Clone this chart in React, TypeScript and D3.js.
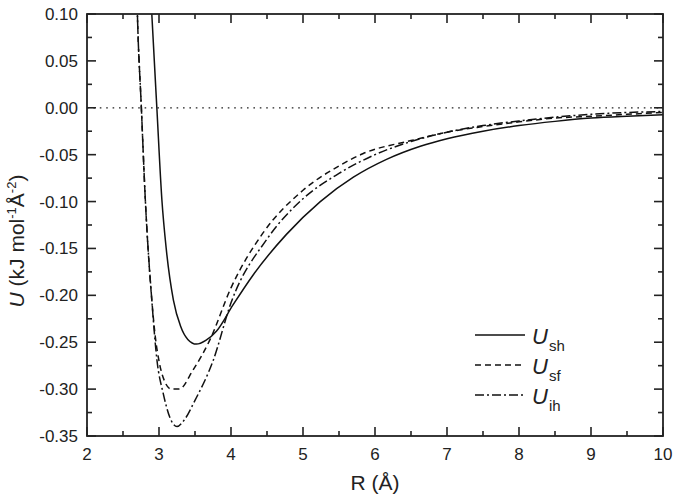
import * as d3 from 'd3'
import { useEffect, useRef } from 'react'

// R (Å) and U values
const rSh = [2.88, 2.9, 2.97, 3.04, 3.1, 3.2, 3.3, 3.4, 3.52, 3.65, 3.8, 4.03, 4.31, 4.77, 5.24, 5.7, 6.16, 6.63, 7, 7.5, 8, 8.5, 9, 9.5, 10]
const uSh = [0.13, 0.1, 0.0, -0.098, -0.15, -0.205, -0.233, -0.247, -0.252, -0.248, -0.238, -0.21, -0.178, -0.135, -0.1, -0.074, -0.055, -0.041, -0.033, -0.025, -0.019, -0.0145, -0.011, -0.009, -0.0075]

const rSf = [2.69, 2.7, 2.755, 2.81, 2.9, 2.95, 3.0, 3.08, 3.17, 3.28, 3.47, 3.71, 4.0, 4.44, 5.0, 5.5, 5.83, 6.5, 7, 7.5, 8, 8.5, 9, 9.5, 10]
const uSf = [0.13, 0.1, 0.0, -0.098, -0.205, -0.245, -0.27, -0.292, -0.3, -0.3, -0.28, -0.247, -0.192, -0.134, -0.088, -0.062, -0.049, -0.035, -0.026, -0.02, -0.015, -0.011, -0.009, -0.007, -0.005]

const rIh = [2.69, 2.7, 2.755, 2.81, 2.9, 2.97, 3.06, 3.15, 3.25, 3.35, 3.5, 3.75, 4.0, 4.5, 5.0, 5.5, 6.0, 6.5, 7, 7.5, 8, 8.5, 9, 9.5, 10]
const uIh = [0.13, 0.1, 0.0, -0.098, -0.205, -0.268, -0.305, -0.33, -0.34, -0.333, -0.312, -0.27, -0.208, -0.14, -0.097, -0.07, -0.05, -0.036, -0.026, -0.019, -0.014, -0.01, -0.007, -0.005, -0.004]

const seriesNames = ['sh', 'sf', 'ih']
const xTicks = [2, 3, 4, 5, 6, 7, 8, 9, 10]
const yTicks = [0.1, 0.05, 0.0, -0.05, -0.1, -0.15, -0.2, -0.25, -0.3, -0.35]

const FONT = '"Liberation Sans", Arial, Helvetica, sans-serif'

const App = () => {
  const ref = useRef<SVGSVGElement>(null)

  useEffect(() => {
    const svg = d3.select(ref.current)
    svg.selectAll('*').remove()

    const left = 87
    const right = 663
    const top = 14
    const bottom = 436

    const x = d3.scaleLinear().domain([2, 10]).range([left, right])
    const y = d3.scaleLinear().domain([-0.35, 0.1]).range([bottom, top])

    svg
      .append('defs')
      .append('clipPath')
      .attr('id', 'plotclip')
      .append('rect')
      .attr('x', left)
      .attr('y', top)
      .attr('width', right - left)
      .attr('height', bottom - top)

    // zero reference line
    svg
      .append('line')
      .attr('x1', left)
      .attr('x2', right)
      .attr('y1', y(0))
      .attr('y2', y(0))
      .attr('stroke', '#222')
      .attr('stroke-width', 1.2)
      .attr('stroke-dasharray', '1.6,4.8')

    const series = [
      { r: rSh, u: uSh, dash: null },
      { r: rSf, u: uSf, dash: '6,4' },
      { r: rIh, u: uIh, dash: '9,3,2,3' },
    ]

    const line = d3
      .line<[number, number]>()
      .x((d) => x(d[0]))
      .y((d) => y(d[1]))
      .curve(d3.curveMonotoneX)

    const g = svg.append('g').attr('clip-path', 'url(#plotclip)')
    series.forEach((s) => {
      const pts = s.r.map((r, i) => [r, s.u[i]] as [number, number])
      g.append('path')
        .attr('d', line(pts))
        .attr('fill', 'none')
        .attr('stroke', '#111')
        .attr('stroke-width', 1.5)
        .attr('stroke-dasharray', s.dash)
    })

    // frame
    svg
      .append('rect')
      .attr('x', left)
      .attr('y', top)
      .attr('width', right - left)
      .attr('height', bottom - top)
      .attr('fill', 'none')
      .attr('stroke', '#222')
      .attr('stroke-width', 1.8)

    const major = 9
    const minor = 5
    const ticks = svg.append('g').attr('stroke', '#222').attr('stroke-width', 1.6)

    const xMinor = d3.range(2.5, 10, 1)
    xTicks.forEach((t) => {
      ticks.append('line').attr('x1', x(t)).attr('x2', x(t)).attr('y1', bottom).attr('y2', bottom - major)
      ticks.append('line').attr('x1', x(t)).attr('x2', x(t)).attr('y1', top).attr('y2', top + major)
    })
    xMinor.forEach((t) => {
      ticks.append('line').attr('x1', x(t)).attr('x2', x(t)).attr('y1', bottom).attr('y2', bottom - minor)
      ticks.append('line').attr('x1', x(t)).attr('x2', x(t)).attr('y1', top).attr('y2', top + minor)
    })

    const yMinor = d3.range(0, 9).map((i) => 0.075 - i * 0.05)
    yTicks.forEach((t) => {
      ticks.append('line').attr('x1', left).attr('x2', left + major).attr('y1', y(t)).attr('y2', y(t))
      ticks.append('line').attr('x1', right).attr('x2', right - major).attr('y1', y(t)).attr('y2', y(t))
    })
    yMinor.forEach((t) => {
      ticks.append('line').attr('x1', left).attr('x2', left + minor).attr('y1', y(t)).attr('y2', y(t))
      ticks.append('line').attr('x1', right).attr('x2', right - minor).attr('y1', y(t)).attr('y2', y(t))
    })

    // tick labels
    svg
      .append('g')
      .selectAll('text')
      .data(xTicks)
      .enter()
      .append('text')
      .attr('x', (d) => x(d))
      .attr('y', 460)
      .attr('text-anchor', 'middle')
      .style('font-family', FONT)
      .style('font-size', '17px')
      .attr('fill', '#222')
      .text((d) => String(d))

    svg
      .append('g')
      .selectAll('text')
      .data(yTicks)
      .enter()
      .append('text')
      .attr('x', 78)
      .attr('y', (d) => y(d) + 6)
      .attr('text-anchor', 'end')
      .style('font-family', FONT)
      .style('font-size', '17px')
      .attr('fill', '#222')
      .text((d) => d.toFixed(2))

    // axis titles
    svg
      .append('text')
      .attr('x', (left + right) / 2)
      .attr('y', 490)
      .attr('text-anchor', 'middle')
      .style('font-family', FONT)
      .style('font-size', '21px')
      .attr('fill', '#222')
      .text('R (Å)')

    const yt = svg
      .append('text')
      .attr('transform', 'translate(24,241) rotate(-90)')
      .attr('text-anchor', 'middle')
      .style('font-family', FONT)
      .style('font-size', '21px')
      .attr('fill', '#222')
    yt.append('tspan').style('font-style', 'italic').text('U')
    yt.append('tspan').text(' (kJ mol')
    yt.append('tspan').attr('dy', -8).style('font-size', '13px').text('-1')
    yt.append('tspan').attr('dy', 8).text('Å')
    yt.append('tspan').attr('dy', -8).style('font-size', '13px').text('-2')
    yt.append('tspan').attr('dy', 8).text(')')

    // legend
    const legend = svg.append('g')
    series.forEach((s, i) => {
      const ly = 335 + i * 30
      legend
        .append('line')
        .attr('x1', 475)
        .attr('x2', 525)
        .attr('y1', ly)
        .attr('y2', ly)
        .attr('stroke', '#111')
        .attr('stroke-width', 1.5)
        .attr('stroke-dasharray', s.dash)
      const t = legend
        .append('text')
        .attr('x', 532)
        .attr('y', ly + 9)
        .style('font-family', FONT)
        .style('font-size', '22px')
        .attr('fill', '#222')
      t.append('tspan').style('font-style', 'italic').text('U')
      t.append('tspan').attr('dy', 7).attr('dx', 1).style('font-size', '15px').text(seriesNames[i])
    })
  }, [])

  return (
    <svg
      ref={ref}
      width={678}
      height={501}
      style={{ position: 'absolute', left: 0, top: 0, background: '#fff' }}
    />
  )
}

export default App
